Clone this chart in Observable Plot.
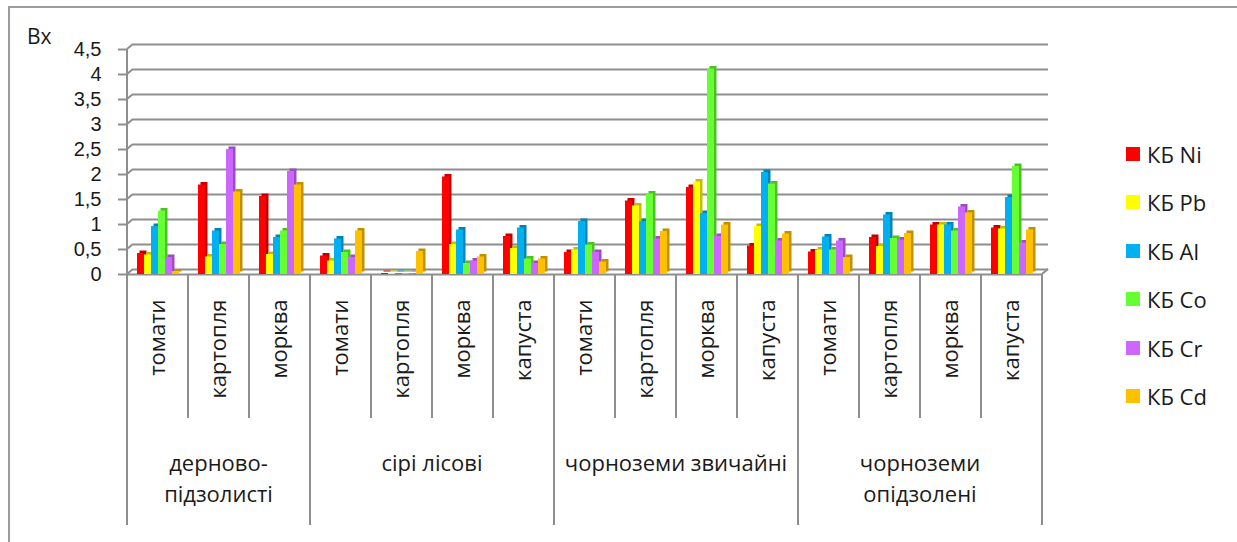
<!DOCTYPE html>
<html>
<head>
<meta charset="utf-8">
<script src="https://cdn.jsdelivr.net/npm/d3@7"></script>
<script src="https://cdn.jsdelivr.net/npm/@observablehq/plot@0.6"></script>
<style>
  body { margin: 0; background: #fff; font-family: "Open Sans", "Liberation Sans", Arial, sans-serif; }
  #wrap { position: relative; width: 1237px; height: 542px; overflow: hidden; }
  #chart { position: absolute; left: 0; top: 0; }
  #frame { position: absolute; left: 8px; top: 6px; width: 1400px; height: 700px;
           border-left: 2px solid #9c9c9c; border-top: 2px solid #9c9c9c; pointer-events: none; }
  #ylabel { position: absolute; left: 27px; top: 22px; font-size: 21px; color: #1a1a1a; }
  .lg { position: absolute; left: 1126px; height: 26px; display: flex; align-items: center;
        font-size: 22px; color: #1a1a1a; white-space: nowrap; }
  .lg span.sw { display: inline-block; width: 14px; height: 14px; margin-right: 7px; }
</style>
</head>
<body>
<div id="wrap">
  <div id="chart"></div>
  <div id="frame"></div>
  <div id="ylabel">Вх</div>
  <div id="legend"></div>
</div>
<script>
// ---- data ----
const soils = ["дерново-підзолисті", "сірі лісові", "чорноземи звичайні", "чорноземи опідзолені"];
const soilLabelLines = [["дерново-", "підзолисті"], ["сірі лісові"], ["чорноземи звичайні"], ["чорноземи", "опідзолені"]];
const cropsBySoil = [
  ["томати", "картопля", "морква"],
  ["томати", "картопля", "морква", "капуста"],
  ["томати", "картопля", "морква", "капуста"],
  ["томати", "картопля", "морква", "капуста"]
];
const series = ["КБ Ni", "КБ Pb", "КБ Al", "КБ Co", "КБ Cr", "КБ Cd"];
const seriesColors = ["#ff0000", "#ffff00", "#00b0f0", "#66ff33", "#cc66ff", "#ffc000"];

const kbNi = [0.42, 1.79, 1.56, 0.37, 0.02, 1.95, 0.76, 0.44, 1.47, 1.74, 0.57, 0.45, 0.74, 0.99, 0.93];
const kbPb = [0.39, 0.35, 0.40, 0.27, 0.02, 0.60, 0.52, 0.49, 1.37, 1.85, 0.96, 0.49, 0.56, 0.99, 0.91];
const kbAl = [0.96, 0.87, 0.74, 0.71, 0.02, 0.89, 0.93, 1.06, 1.06, 1.22, 2.04, 0.75, 1.19, 0.99, 1.54];
const kbCo = [1.27, 0.60, 0.87, 0.44, 0.02, 0.22, 0.31, 0.59, 1.61, 4.11, 1.81, 0.49, 0.72, 0.87, 2.16];
const kbCr = [0.34, 2.50, 2.06, 0.34, 0.02, 0.27, 0.22, 0.44, 0.71, 0.76, 0.67, 0.67, 0.69, 1.35, 0.63];
const kbCd = [0.05, 1.65, 1.79, 0.87, 0.46, 0.35, 0.31, 0.25, 0.86, 0.99, 0.81, 0.34, 0.82, 1.23, 0.89];
const seriesValues = [kbNi, kbPb, kbAl, kbCo, kbCr, kbCd];

const yTicks = [0, 0.5, 1, 1.5, 2, 2.5, 3, 3.5, 4, 4.5];

// ---- build table ----
const cats = [];
cropsBySoil.forEach((crops, si) => crops.forEach(c => cats.push({key: si + "|" + c, soil: si, crop: c})));
const catKeys = cats.map(c => c.key);
const rows = [];
cats.forEach((c, i) => series.forEach((s, j) => rows.push({cat: c.key, series: s, value: seriesValues[j][i]})));

const grid = "#8e8e8e";
const ink = "#1a1a1a";
const font = "'Open Sans', 'Liberation Sans', Arial, sans-serif";
const tickFont = "'Liberation Sans', Arial, sans-serif";

const shadowMarks = series.map((s, j) => Plot.barY(rows.filter(r => r.series === s), {
  fx: "cat", x: "series", y: "value",
  fill: d3.color(seriesColors[j]).darker(0.8).formatHex(),
  dx: 2.5, dy: -2.5
}));
const frontMarks = series.map((s, j) => Plot.barY(rows.filter(r => r.series === s), {
  fx: "cat", x: "series", y: "value",
  fill: seriesColors[j]
}));

const plot = Plot.plot({
  width: 1237,
  height: 542,
  marginLeft: 127,
  marginRight: 195,
  marginTop: 49,
  marginBottom: 268,
  style: {background: "transparent", fontSize: "22px", fontFamily: font, color: ink},
  fx: {domain: catKeys, padding: 0},
  x: {domain: series, paddingInner: 0, paddingOuter: 0.9, axis: null},
  y: {domain: [0, 4.5]},
  marks: [
    Plot.ruleY(yTicks, {y: d => d, stroke: grid, strokeWidth: 2, dx: 6, dy: -5}),
    Plot.ruleY([0], {stroke: grid, strokeWidth: 2}),
    ...shadowMarks,
    ...frontMarks,
    Plot.axisY({
      anchor: "left", ticks: yTicks, tickSize: 9, tickPadding: 17,
      tickFormat: d => String(d).replace(".", ","),
      stroke: grid, strokeWidth: 2, fill: ink, label: null, fontSize: 20, fontFamily: tickFont
    }),
    Plot.axisFx({
      anchor: "bottom", tickRotate: -90, tickSize: 0, tickPadding: 25,
      tickFormat: k => k.split("|")[1], fill: ink, label: null, fontSize: 22
    })
  ]
});
document.getElementById("chart").appendChild(plot);

// ---- 3D wall / category table decorations from the plot's own scales ----
const svg = d3.select(plot.tagName.toLowerCase() === "svg" ? plot : plot.querySelector("svg"));
const fx = plot.scale("fx");
const ys = plot.scale("y");
const bw = fx.bandwidth;
const xStart = fx.apply(catKeys[0]);
const xEnd = fx.apply(catKeys[catKeys.length - 1]) + bw;
const y0 = ys.apply(0);
const yTop = ys.apply(4.5);

const g = svg.append("g").attr("stroke", grid).attr("stroke-width", 2).attr("fill", "none");
g.append("line").attr("x1", xStart).attr("x2", xStart).attr("y1", yTop).attr("y2", y0 + 251);
yTicks.forEach(t => {
  const yy = ys.apply(t);
  g.append("line").attr("x1", xStart).attr("y1", yy).attr("x2", xStart + 6).attr("y2", yy - 5);
});
g.append("line").attr("x1", xEnd).attr("y1", y0).attr("x2", xEnd + 6).attr("y2", y0 - 5);

cats.forEach((c, i) => {
  if (i === 0) return;
  const xx = fx.apply(c.key);
  const groupStart = cats[i - 1].soil !== c.soil;
  g.append("line").attr("x1", xx).attr("x2", xx).attr("y1", y0).attr("y2", y0 + (groupStart ? 251 : 144));
});
g.append("line").attr("x1", xEnd).attr("x2", xEnd).attr("y1", y0).attr("y2", y0 + 251);

const tg = svg.append("g").attr("fill", ink).attr("font-size", 22)
  .attr("font-family", font).attr("text-anchor", "middle");
soils.forEach((s, si) => {
  const keys = cats.filter(c => c.soil === si).map(c => c.key);
  const cx = (fx.apply(keys[0]) + fx.apply(keys[keys.length - 1]) + bw) / 2;
  soilLabelLines[si].forEach((line, li) => {
    tg.append("text").attr("x", cx).attr("y", y0 + 189 + li * 31).attr("dy", "0.35em").text(line);
  });
});

// ---- legend ----
const legend = document.getElementById("legend");
series.forEach((s, j) => {
  const row = document.createElement("div");
  row.className = "lg";
  row.style.top = (154 + j * 48.4 - 13) + "px";
  const sw = document.createElement("span");
  sw.className = "sw";
  sw.style.background = seriesColors[j];
  row.appendChild(sw);
  row.appendChild(document.createTextNode(s));
  legend.appendChild(row);
});
</script>
</body>
</html>
